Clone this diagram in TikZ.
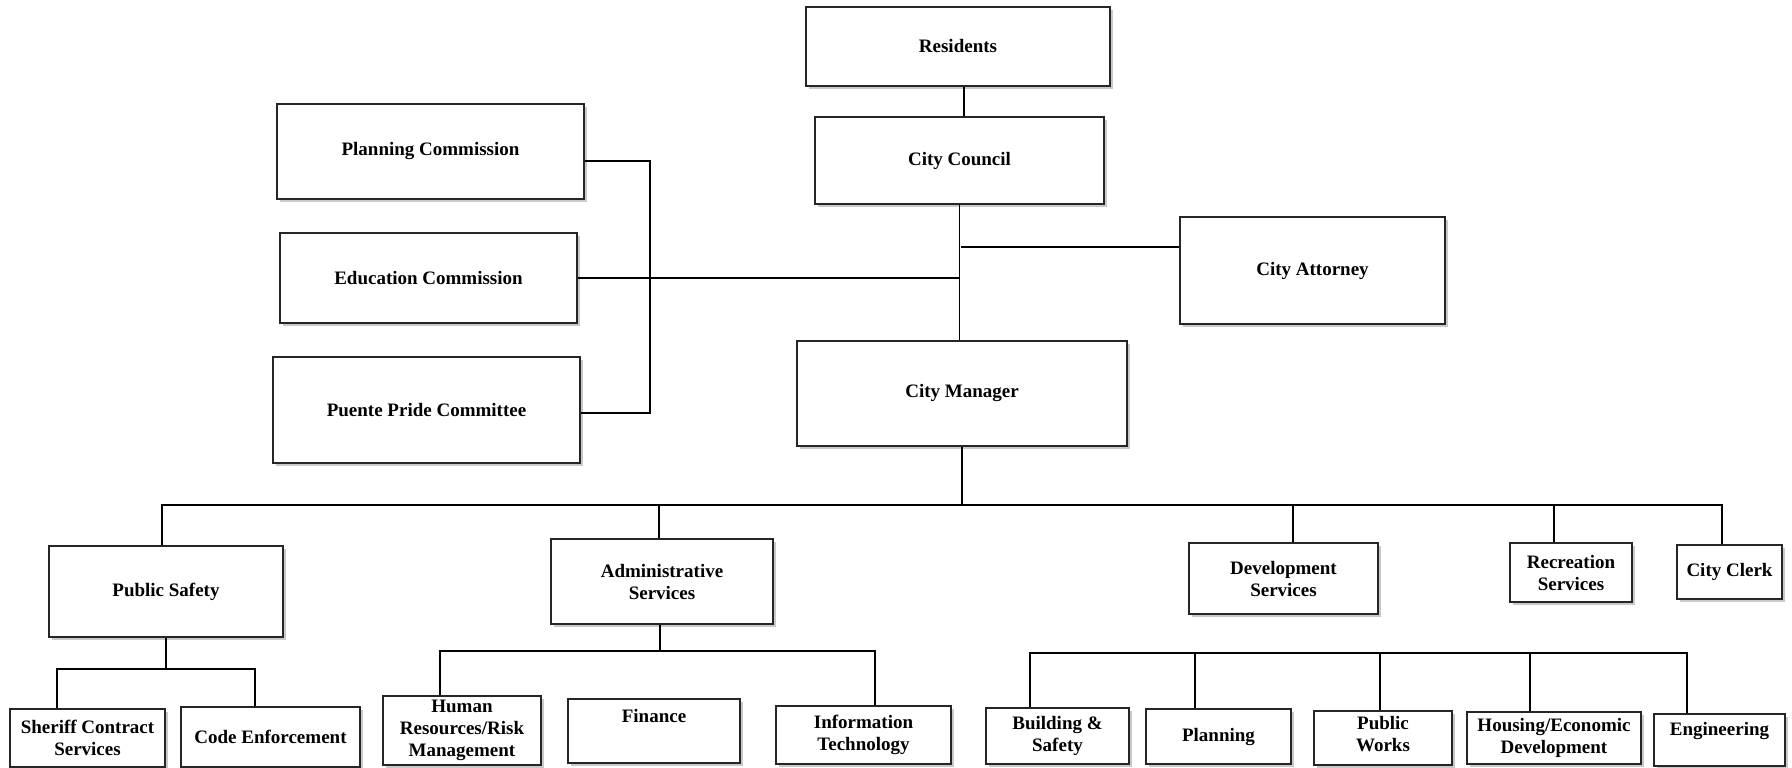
\documentclass[tikz,border=0pt]{standalone}
\usepackage{fontspec}
\setmainfont{Liberation Serif}
\usetikzlibrary{shadows,calc}
\tikzset{
  box/.style={draw=black!85, line width=1.4pt, fill=white, inner sep=0pt, align=center,
    font=\bfseries\fontsize{19}{22}\selectfont,
    drop shadow={shadow xshift=3pt, shadow yshift=-3pt, opacity=0.35, fill=black!60}},
  txt/.style={inner sep=0pt, align=center, font=\bfseries\fontsize{19}{22}\selectfont},
  link/.style={line width=1.1pt, black},
}
\begin{document}
\begin{tikzpicture}[x=1pt,y=-1pt]
\useasboundingbox[fill=white] (0,0) rectangle (1792,768);
% top level
\node[box, minimum width=304pt, minimum height=79pt] (res) at (958,46.5) {Residents};
\node[box, minimum width=289pt, minimum height=87pt] (council) at (959.5,160.5) {City Council};
\node[box, minimum width=265pt, minimum height=107pt] (att) at (1312.5,270.5) {City Attorney};
\node[box, minimum width=330pt, minimum height=105pt] (mgr) at (962,393.5) {City Manager};
% commissions
\node[box, minimum width=307pt, minimum height=95pt] (plan) at (430.5,151.5) {Planning Commission};
\node[box, minimum width=297pt, minimum height=90pt] (edu) at (428.5,278) {Education Commission};
\node[box, minimum width=307pt, minimum height=106pt] (pp) at (426.5,410) {Puente Pride Committee};
% departments
\node[box, minimum width=234pt, minimum height=91pt] (ps) at (166,591.5) {Public Safety};
\node[box, minimum width=222pt, minimum height=85pt] (adm) at (662,581.5) {Administrative\\Services};
\node[box, minimum width=189pt, minimum height=71pt] (dev) at (1283.5,578.5) {Development\\Services};
\node[box, minimum width=122pt, minimum height=59pt] (rec) at (1571,572.5) {Recreation\\Services};
\node[box, minimum width=105pt, minimum height=54pt] (clerk) at (1729.5,572) {City Clerk};
% divisions
\node[box, minimum width=155pt, minimum height=58pt] (sh) at (87.5,738) {Sheriff Contract\\Services};
\node[box, minimum width=179pt, minimum height=60pt] (ce) at (270.5,737) {Code Enforcement};
\node[box, minimum width=158pt, minimum height=69pt] (hr) at (462,730.5) {Human\\Resources/Risk\\Management};
\node[box, minimum width=172pt, minimum height=64pt] (fin) at (654,731) {};
\node[txt] (fintxt) at ([yshift=15pt]fin.center) {Finance};
\node[box, minimum width=175pt, minimum height=58pt] (it) at (863.5,735) {Information\\Technology};
\node[box, minimum width=143pt, minimum height=56pt] (bs) at (1057.5,736) {Building \&\\Safety};
\node[box, minimum width=145pt, minimum height=55pt] (pl) at (1218.5,736.5) {Planning};
\node[box, minimum width=138pt, minimum height=54pt] (pw) at (1383,738) {};
\node[txt] (pwtxt) at ([yshift=4pt]pw.center) {Public\\Works};
\node[box, minimum width=174pt, minimum height=52pt] (hed) at (1554,738) {Housing/Economic\\Development};
\node[box, minimum width=131pt, minimum height=52pt] (eng) at (1719.5,740) {};
\node[txt] (engtxt) at ([yshift=9pt]eng.center) {Engineering};
% connectors top
\draw[link] ([xshift=6pt]res.south) -- ([xshift=4.5pt]council.north);
\draw[link] (council.south) -- (council.south |- mgr.north);
\coordinate (attj) at (961,247);
\draw[link] (attj) -- (attj -| att.west);
\draw[link] (edu.east) -- (edu.east -| council.south);
\coordinate (brt) at (650,161);
\coordinate (brb) at (650,413);
\draw[link] (brt -| plan.east) -- (brt) -- (brb) -- (brb -| pp.east);
% main bus
\coordinate (bus) at (0,505);
\draw[link] (mgr.south) -- (mgr.south |- bus);
\draw[link] ([xshift=-4pt]ps.north) |- ([xshift=-7.5pt]clerk.north |- bus) -- ([xshift=-7.5pt]clerk.north);
\draw[link] ([xshift=-3pt]adm.north) -- ([xshift=-3pt]adm.north |- bus);
\draw[link] ([xshift=9.5pt]dev.north) -- ([xshift=9.5pt]dev.north |- bus);
\draw[link] ([xshift=-17pt]rec.north) -- ([xshift=-17pt]rec.north |- bus);
% public safety sub
\coordinate (psbus) at (0,669);
\draw[link] (ps.south) -- (ps.south |- psbus);
\draw[link] ([xshift=-30.5pt]sh.north) |- ([xshift=-15.5pt]ce.north |- psbus) -- ([xshift=-15.5pt]ce.north);
% admin sub
\coordinate (adbus) at (0,651);
\draw[link] ([xshift=-2pt]adm.south) -- ([xshift=-2pt]adm.south |- adbus);
\draw[link] ([xshift=-22pt]hr.north) |- ([xshift=11.5pt]it.north |- adbus) -- ([xshift=11.5pt]it.north);
% development sub
\coordinate (dvbus) at (0,653);
\draw[link] ([xshift=-27.5pt]bs.north) |- ([xshift=-32.5pt]eng.north |- dvbus) -- ([xshift=-32.5pt]eng.north);
\draw[link] ([xshift=-23.5pt]pl.north) -- ([xshift=-23.5pt]pl.north |- dvbus);
\draw[link] ([xshift=-3pt]pw.north) -- ([xshift=-3pt]pw.north |- dvbus);
\draw[link] ([xshift=-24pt]hed.north) -- ([xshift=-24pt]hed.north |- dvbus);
\end{tikzpicture}
\end{document}
